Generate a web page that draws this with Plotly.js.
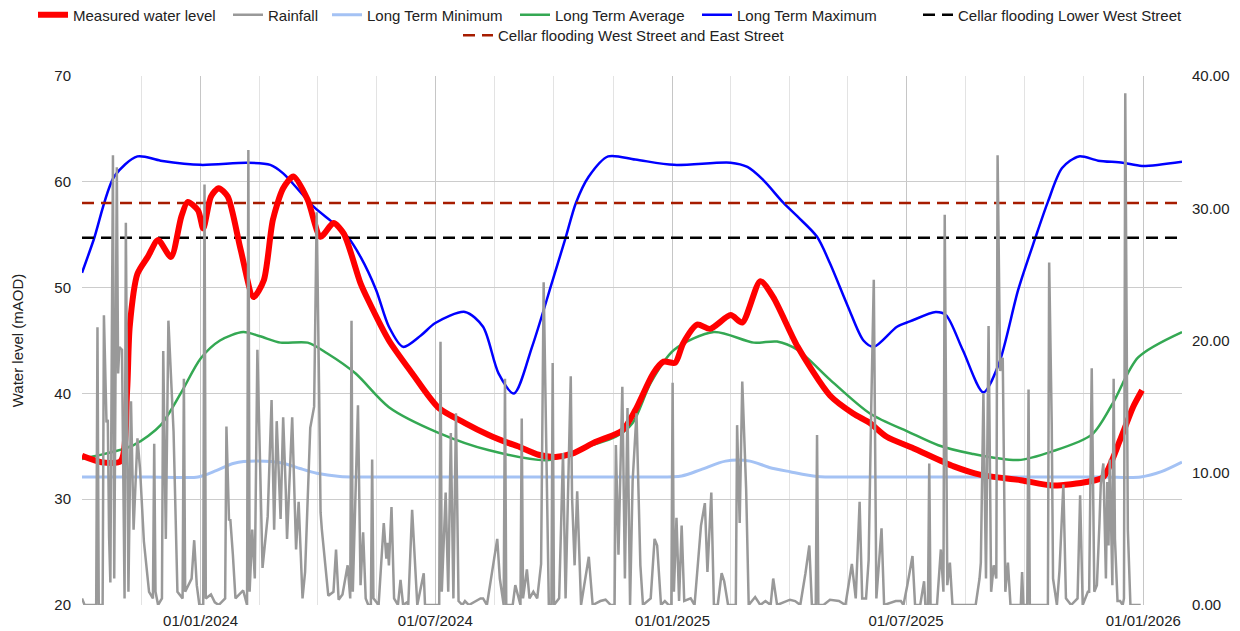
<!DOCTYPE html>
<html>
<head>
<meta charset="utf-8">
<script src="https://cdn.plot.ly/plotly-3.0.1.min.js"></script>
<style>
html,body{margin:0;padding:0;background:#ffffff;}
#chart{width:1240px;height:631px;}
</style>
</head>
<body>
<div id="chart"></div>
<script>
// ---------------- DATA ----------------
const measuredDates = ['2023-10-01','2023-10-16','2023-10-31','2023-11-05','2023-11-07','2023-11-13','2023-11-21','2023-11-29','2023-12-09','2023-12-17',
  '2023-12-22','2023-12-30','2024-01-03','2024-01-09','2024-01-15','2024-01-22','2024-02-01','2024-02-11','2024-02-19','2024-02-26',
  '2024-03-05','2024-03-13','2024-03-24','2024-04-03','2024-04-13','2024-04-21','2024-05-04','2024-05-10','2024-05-26','2024-06-13',
  '2024-07-03','2024-07-24','2024-08-11','2024-08-27','2024-09-03','2024-09-19','2024-10-02','2024-10-15','2024-11-02','2024-11-23',
  '2024-12-03','2024-12-17','2024-12-25','2025-01-03','2025-01-09','2025-01-20','2025-01-30','2025-02-15','2025-02-24','2025-03-10',
  '2025-03-20','2025-04-08','2025-05-03','2025-05-21','2025-06-03','2025-06-16','2025-07-07','2025-08-07','2025-08-28','2025-09-28',
  '2025-10-23','2025-11-19','2025-12-01','2025-12-14','2025-12-24','2025-12-31'];
const measuredLevel = [34.1,33.5,33.6,40.3,46.3,51.3,52.9,54.5,52.9,56.7,
  58.1,57.3,55.6,58.6,59.4,58.6,53.6,49.1,50.7,56.4,
  59.4,60.5,58.3,54.8,56.1,55.1,50.4,48.8,45.0,41.9,
  38.7,37.2,36.1,35.3,35.0,34.2,34.0,34.3,35.4,36.5,
  38.4,41.9,43.0,42.9,44.7,46.5,46.1,47.4,46.7,50.6,
  49.1,44.4,39.8,38.1,37.2,35.9,34.8,33.1,32.3,31.8,
  31.3,31.65,32.1,35.6,38.7,40.3];

const minDates = ['2023-10-01','2023-11-23','2023-12-17','2023-12-30','2024-01-13','2024-01-27','2024-02-14','2024-03-05','2024-03-18','2024-03-31',
  '2024-04-18','2024-05-04','2024-08-15','2024-12-15','2025-01-08','2025-01-23','2025-02-11','2025-03-02','2025-03-17','2025-04-02',
  '2025-04-23','2025-05-20','2025-09-01','2025-12-01','2025-12-30','2026-01-15','2026-01-31'];
const minLevel = [32.1,32.1,32.05,32.1,32.7,33.4,33.6,33.4,32.9,32.45,
  32.15,32.1,32.1,32.1,32.2,32.8,33.6,33.6,33.0,32.6,
  32.15,32.1,32.1,32.1,32.1,32.6,33.5];

const avgDates = ['2023-10-01','2023-11-10','2023-12-01','2023-12-17','2024-01-01','2024-01-16','2024-02-03','2024-02-16','2024-03-03','2024-03-24',
  '2024-04-08','2024-04-30','2024-05-26','2024-07-03','2024-08-11','2024-09-27','2024-10-28','2024-11-18','2024-12-01','2024-12-15',
  '2025-01-02','2025-02-02','2025-03-05','2025-03-23','2025-04-08','2025-05-03','2025-06-03','2025-07-04','2025-07-26','2025-08-21',
  '2025-09-26','2025-10-22','2025-11-22','2025-12-08','2025-12-28','2026-01-31'];
const avgLevel = [33.8,35.1,37.0,40.1,43.3,45.0,45.8,45.4,44.8,44.8,
  43.8,41.9,38.7,36.3,34.65,33.7,35.0,35.9,37.2,41.0,
  44.1,45.8,44.8,44.9,44.1,41.3,38.1,36.3,35.1,34.3,
  33.7,34.5,36.1,39.0,43.4,45.8];

const maxDates = ['2023-10-01','2023-10-10','2023-10-26','2023-11-13','2023-12-01','2024-01-01','2024-02-06','2024-02-24','2024-03-05','2024-03-29',
  '2024-04-13','2024-04-24','2024-05-04','2024-05-16','2024-05-26','2024-06-06','2024-06-20','2024-07-01','2024-07-24','2024-08-07',
  '2024-08-19','2024-08-31','2024-09-14','2024-09-30','2024-10-10','2024-10-18','2024-10-28','2024-11-12','2024-12-03','2025-01-02',
  '2025-02-15','2025-02-28','2025-03-12','2025-03-28','2025-04-08','2025-04-23','2025-05-03','2025-05-17','2025-05-29','2025-06-06',
  '2025-06-24','2025-07-04','2025-07-24','2025-08-01','2025-08-14','2025-08-30','2025-09-11','2025-09-26','2025-10-09','2025-10-19',
  '2025-10-30','2025-11-12','2025-11-27','2025-12-16','2025-12-31','2026-01-31'];
const maxLevel = [51.4,54.5,60.5,62.4,62.0,61.6,61.8,61.6,60.8,57.6,
  56.1,54.8,52.9,49.8,46.3,44.4,45.5,46.65,47.7,46.3,
  41.9,40.0,44.4,50.7,54.7,58.0,60.5,62.4,62.1,61.6,
  61.8,61.4,60.2,58.0,56.7,54.8,52.3,48.2,45.0,44.4,
  46.3,46.8,47.7,47.4,44.1,40.1,42.8,49.8,54.6,58.1,
  61.3,62.4,62.0,61.8,61.5,61.9];

// Rainfall: day number counted from rainStart, and rainfall (right axis)
const rainStart = '2023-10-01';
const rainDay = [0,2,8,11,12,13,16,17,19,20,21,22,
  24,25,27,28,29,31,33,34,36,38,
  40,43,45,47,48,52,55,56,57,59,62,63,
  65,67,69,71,74,78,79,80,85,87,89,
  91,94,95,96,100,103,106,111,112,114,115,117,
  119,125,128,129,130,132,134,136,140,144,147,
  149,151,154,156,158,159,163,166,168,171,
  173,176,177,180,182,184,185,186,189,191,
  195,197,199,202,206,208,209,210,214,216,218,
  220,222,224,225,226,230,234,236,237,238,240,
  242,245,247,249,252,253,256,258,260,265,
  266,277,278,279,282,284,286,288,290,292,
  295,297,300,309,311,314,322,324,327,328,329,
  334,336,340,341,342,345,347,350,353,356,358,
  360,362,364,365,366,370,373,375,379,380,382,
  384,387,391,393,396,402,406,410,413,414,416,
  419,421,423,425,427,430,433,435,441,444,
  446,449,452,455,457,458,459,461,463,465,467,472,
  475,480,483,485,488,490,493,496,498,501,
  507,508,510,512,515,517,522,526,530,534,536,
  539,549,553,557,561,564,566,569,570,571,575,
  580,587,592,597,600,603,605,608,610,612,
  614,616,620,622,631,635,637,640,644,646,
  650,653,654,656,657,658,663,666,668,669,671,673,
  675,693,696,697,699,701,703,705,707,709,710,
  712,714,716,718,720,728,729,730,733,734,735,
  748,749,750,752,753,756,758,759,761,763,767,
  772,774,776,780,781,783,785,787,789,790,
  792,794,795,796,797,799,800,801,803,805,
  807,808,809,811,813,821];
const rainMm = [0.5,0,0,0,21.0,0,0,21.9,13.8,14.0,5.2,1.7,
  34.0,2,33.1,17.5,19.5,19.3,0.5,28.9,1,15.4,
  5.7,12.6,10.3,7.2,4.8,1,0.5,12.2,1,0,0.5,19.2,
  5,21.5,17.8,13.1,1,0.5,17.1,1,2.0,4.9,1.5,
  0,0,31.8,0.5,0.8,0.2,0,0.5,13.5,6.4,6.5,3.8,
  0.5,1.1,0,34.4,1,5.7,2,19.3,2.8,6.7,15.5,
  5.7,13.9,6.5,14.2,8.7,5,14.2,4.2,7.8,0.5,
  2.5,11.0,13.4,15.0,29.7,15.2,7,5.7,3,0.7,
  1,4.2,0.4,0.8,3,0.5,21.5,1,15.1,1.5,5.5,
  0.5,0,0,11.0,0.5,0,6.2,3.5,4.7,3,7.4,
  0.5,0,1.9,0,0.2,0,7.2,3.1,0,2.4,
  0,0,19.9,1,8.5,1,13.0,0.5,14.5,0.3,
  0,0.3,0,0.5,0.5,0,5.0,2,0,17.1,0,
  0,1.5,0,14.1,0.5,2.7,0.5,1,0.5,3.1,24.4,
  10.7,0,0,18.3,0,0.5,11.5,0.5,17.3,8.2,3,
  8.6,0,2.6,3.65,0,0.3,0.4,0,0,12.1,3.8,
  16.5,2,14.9,0,9.4,14.5,3,0,0.5,5.0,
  4.5,0,0.3,0,0,16.8,1,6.6,0.3,6.0,0.3,0.5,
  0,6.0,7.7,2.5,8.5,0,0,2.4,1.8,0,
  0,13.6,6.2,16.9,8.8,0,0.6,0,0.3,0,2.0,
  0,0.4,0.3,0,2.4,4.5,0,0,12.85,0,0,
  0.4,0.3,0,3.1,0.5,7.8,0.5,0.5,3.4,14.8,
  24.6,0.5,5.8,0,0.3,0.3,0,1.5,3.7,0,
  0,1.8,0,0,10.7,0,0,4.2,1,29.5,1.5,3.2,
  0,0,2,3.2,16.0,2,21.1,1,3,2,34.0,
  17.7,18.7,1,3.2,0,0,2.5,0,0,16.3,0,
  0,0,25.9,13.6,2,0,2.6,5.2,9.1,0.5,0,
  0.5,8.3,0,1,1,17.9,1,1.5,6.2,9.1,
  10.7,2,9.3,4.5,11.0,1.5,17.1,5,0.3,0.3,
  0,0.5,38.7,5.7,0,0];

const floodLowerWest = 54.7;   // Cellar flooding Lower West Street
const floodWestEast = 58.0;    // Cellar flooding West Street and East Street

const xStart = '2023-10-01';
const xEnd = '2026-01-31';
const tickDates = ['2024-01-01','2024-07-01','2025-01-01','2025-07-01','2026-01-01'];
const tickLabels = ['01/01/2024','01/07/2024','01/01/2025','01/07/2025','01/01/2026'];
const leftTicks = [20,30,40,50,60,70];
const rightTicks = [0,10,20,30,40];

// ---------------- HELPERS ----------------
const DAY = 86400000;
function addDays(start, d){
  return new Date(Date.parse(start + 'T00:00:00Z') + d * DAY).toISOString().slice(0,10);
}
const rainDates = rainDay.map(d => addDays(rainStart, d));

// minor gridlines: 4 equal divisions between half-year ticks
const bounds = ['2023-07-01'].concat(tickDates, ['2026-07-01']);
const minorDates = [];
for (let i = 0; i < bounds.length - 1; i++) {
  const a = Date.parse(bounds[i] + 'T00:00:00Z'), b = Date.parse(bounds[i+1] + 'T00:00:00Z');
  for (let k = 1; k < 4; k++) {
    minorDates.push(new Date(a + (b - a) * k / 4).toISOString().slice(0,19).replace('T',' '));
  }
}

const FONT = '"Liberation Sans", Arial, Helvetica, sans-serif';
const TXT = '#222222';
const DASH = '12px,7px';

// ---------------- TRACES ----------------
const traces = [
  {name:'Long Term Minimum', x:minDates, y:minLevel, type:'scatter', mode:'lines',
   line:{color:'#a4c2f4', width:3, shape:'spline', smoothing:0.8}, legend:'legend3'},
  {name:'Long Term Average', x:avgDates, y:avgLevel, type:'scatter', mode:'lines',
   line:{color:'#34a853', width:2.5, shape:'spline', smoothing:0.8}, legend:'legend4'},
  {name:'Long Term Maximum', x:maxDates, y:maxLevel, type:'scatter', mode:'lines',
   line:{color:'#0000ff', width:2.5, shape:'spline', smoothing:0.8}, legend:'legend5'},
  {name:'Cellar flooding Lower West Street', x:[xStart, xEnd], y:[floodLowerWest, floodLowerWest], type:'scatter', mode:'lines',
   line:{color:'#000000', width:2.5, dash:DASH}, legend:'legend6'},
  {name:'Cellar flooding West Street and East Street', x:[xStart, xEnd], y:[floodWestEast, floodWestEast], type:'scatter', mode:'lines',
   line:{color:'#a61c00', width:2.5, dash:DASH}, legend:'legend7'},
  {name:'Measured water level', x:measuredDates, y:measuredLevel, type:'scatter', mode:'lines',
   line:{color:'#ff0000', width:6, shape:'spline', smoothing:0.7}, legend:'legend'},
  {name:'Rainfall', x:rainDates, y:rainMm, type:'scatter', mode:'lines', yaxis:'y2',
   line:{color:'#999999', width:2.5}, legend:'legend2'}
];

// ---------------- LAYOUT ----------------
const PL = 82, PR = 1182, PT = 76, PB = 605;
function legendAt(textLeftPx, centerYPx){
  return {
    x:(textLeftPx - 40 - PL) / (PR - PL), xanchor:'left',
    y:(PB - centerYPx) / (PB - PT), yanchor:'middle',
    orientation:'h', bgcolor:'rgba(0,0,0,0)', borderwidth:0,
    font:{family:FONT, size:15, color:TXT}
  };
}

const layout = {
  width:1240, height:631,
  margin:{l:PL, r:1240-PR, t:PT, b:631-PB, autoexpand:false},
  paper_bgcolor:'#ffffff', plot_bgcolor:'#ffffff',
  font:{family:FONT, size:15, color:TXT},
  showlegend:true,
  xaxis:{
    type:'date', range:[xStart, xEnd],
    tickmode:'array', tickvals:tickDates, ticktext:tickLabels,
    showgrid:true, gridcolor:'#c6c6c6', gridwidth:1,
    ticks:'outside', ticklen:2, tickcolor:'rgba(0,0,0,0)',
    zeroline:false, showline:false,
    tickfont:{family:FONT, size:15, color:TXT},
    minor:{tickmode:'array', tickvals:minorDates, showgrid:true, gridcolor:'#e3e3e3', gridwidth:1, ticks:''}
  },
  yaxis:{
    range:[20,70], tickmode:'array', tickvals:leftTicks,
    showgrid:true, gridcolor:'#cccccc', gridwidth:1,
    zeroline:false, showline:false,
    ticks:'outside', ticklen:7, tickcolor:'rgba(0,0,0,0)',
    tickfont:{family:FONT, size:15, color:TXT},
    title:{text:'Water level (mAOD)', font:{family:FONT, size:15, color:TXT}, standoff:27}
  },
  yaxis2:{
    range:[0,40], overlaying:'y', side:'right',
    tickmode:'array', tickvals:rightTicks, tickformat:'.2f',
    showgrid:false, zeroline:false, showline:false,
    ticks:'outside', ticklen:6, tickcolor:'rgba(0,0,0,0)',
    tickfont:{family:FONT, size:15, color:TXT}
  },
  legend: legendAt(73, 15),
  legend2: legendAt(268, 15),
  legend3: legendAt(367, 15),
  legend4: legendAt(555, 15),
  legend5: legendAt(737, 15),
  legend6: legendAt(958, 15),
  legend7: legendAt(498, 35.5)
};

Plotly.newPlot('chart', traces, layout, {displayModeBar:false, responsive:false});
</script>
</body>
</html>
